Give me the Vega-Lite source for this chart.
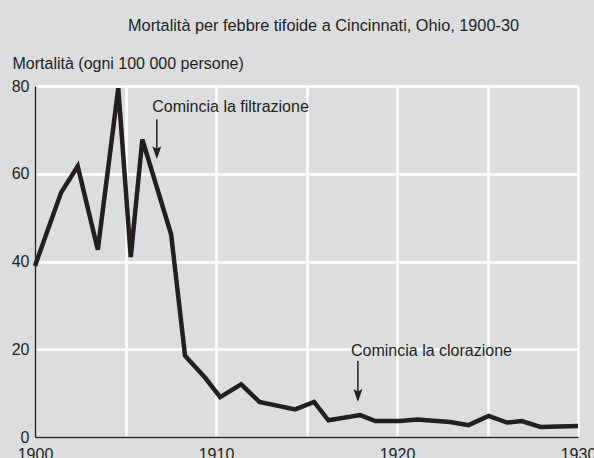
{
  "$schema": "https://vega.github.io/schema/vega-lite/v6.json",
  "width": 543,
  "height": 351,
  "autosize": {"type": "none"},
  "padding": {"left": 35, "top": 86, "right": 16, "bottom": 21},
  "background": "#dcdddf",
  "config": {
    "view": {"stroke": null, "fill": "#dcdddf"},
    "font": "Liberation Sans, Arial, sans-serif",
    "text": {"font": "Liberation Sans, Arial, sans-serif"}
  },
  "title": {
    "text": "Mortalità per febbre tifoide a Cincinnati, Ohio, 1900-30",
    "anchor": "middle",
    "frame": "group",
    "fontSize": 16.3,
    "fontWeight": "normal",
    "color": "#231f20",
    "dx": 17,
    "dy": -17
  },
  "datasets": {
    "main": [
      {"year": 1900.0, "value": 39.0},
      {"year": 1901.44, "value": 55.7},
      {"year": 1902.36, "value": 61.7},
      {"year": 1903.47, "value": 42.7},
      {"year": 1904.6, "value": 79.5},
      {"year": 1905.29, "value": 41.0},
      {"year": 1905.93, "value": 67.8},
      {"year": 1907.52, "value": 46.2},
      {"year": 1908.29, "value": 18.5},
      {"year": 1909.4, "value": 13.5},
      {"year": 1910.23, "value": 9.1},
      {"year": 1911.39, "value": 12.0},
      {"year": 1912.4, "value": 8.0},
      {"year": 1914.37, "value": 6.3},
      {"year": 1915.42, "value": 8.0},
      {"year": 1916.21, "value": 3.8},
      {"year": 1917.97, "value": 5.0},
      {"year": 1918.8, "value": 3.65},
      {"year": 1920.18, "value": 3.65},
      {"year": 1921.1, "value": 4.0},
      {"year": 1922.94, "value": 3.4},
      {"year": 1923.95, "value": 2.7},
      {"year": 1925.06, "value": 4.8},
      {"year": 1926.08, "value": 3.3},
      {"year": 1926.9, "value": 3.65},
      {"year": 1927.92, "value": 2.3},
      {"year": 1930.0, "value": 2.5}
    ],
    "arrows": [
      {"year": 1906.73, "value": 63.3, "top": 72.4, "shaft": 65.5},
      {"year": 1917.84, "value": 8.0, "top": 17.3, "shaft": 10.2}
    ],
    "notes": [
      {"year": 1906.48, "value": 74.1, "label": "Comincia la filtrazione"},
      {"year": 1917.46, "value": 18.45, "label": "Comincia la clorazione"}
    ]
  },
  "encoding": {
    "x": {
      "field": "year",
      "type": "quantitative",
      "scale": {"domain": [1900, 1930], "nice": false, "zero": false},
      "axis": {
        "title": null,
        "values": [1900, 1905, 1910, 1915, 1920, 1925, 1930],
        "labelExpr": "datum.value % 10 === 0 ? format(datum.value, 'd') : ''",
        "grid": true,
        "gridColor": "#ffffff",
        "gridWidth": 2.5,
        "gridOpacity": 1,
        "ticks": false,
        "domainColor": "#231f20",
        "domainWidth": 1.5,
        "labelFontSize": 16,
        "labelColor": "#231f20",
        "labelPadding": 9,
        "labelBaseline": "top",
        "labelFlush": false,
        "labelOverlap": false,
        "zindex": 0
      }
    },
    "y": {
      "field": "value",
      "type": "quantitative",
      "scale": {"domain": [0, 80], "nice": false},
      "axis": {
        "title": "Mortalità (ogni 100 000 persone)",
        "titleAngle": 0,
        "titleAlign": "left",
        "titleBaseline": "alphabetic",
        "titleX": -23,
        "titleY": -18,
        "titleFontSize": 16,
        "titleFontWeight": "normal",
        "titleColor": "#231f20",
        "values": [0, 20, 40, 60, 80],
        "grid": true,
        "gridColor": "#ffffff",
        "gridWidth": 2.5,
        "gridOpacity": 1,
        "ticks": false,
        "domainColor": "#231f20",
        "domainWidth": 1.5,
        "labelFontSize": 16,
        "labelColor": "#231f20",
        "labelPadding": 6,
        "labelFlush": false,
        "zindex": 0
      }
    }
  },
  "layer": [
    {
      "data": {"name": "main"},
      "mark": {"type": "line", "color": "#231f20", "strokeWidth": 4.5, "strokeJoin": "miter", "strokeMiterLimit": 4, "clip": false}
    },
    {
      "data": {"name": "arrows"},
      "mark": {"type": "rule", "color": "#231f20", "strokeWidth": 1.5},
      "encoding": {"y": {"field": "top", "type": "quantitative"}, "y2": {"field": "shaft"}}
    },
    {
      "data": {"name": "arrows"},
      "mark": {"type": "point", "shape": "M0,0L-0.45,-1.3L0,-1.05L0.45,-1.3Z", "size": 400, "filled": true, "color": "#231f20", "opacity": 1, "strokeWidth": 0}
    },
    {
      "data": {"name": "notes"},
      "mark": {"type": "text", "align": "left", "baseline": "alphabetic", "fontSize": 16, "color": "#231f20"},
      "encoding": {"text": {"field": "label"}}
    }
  ]
}
